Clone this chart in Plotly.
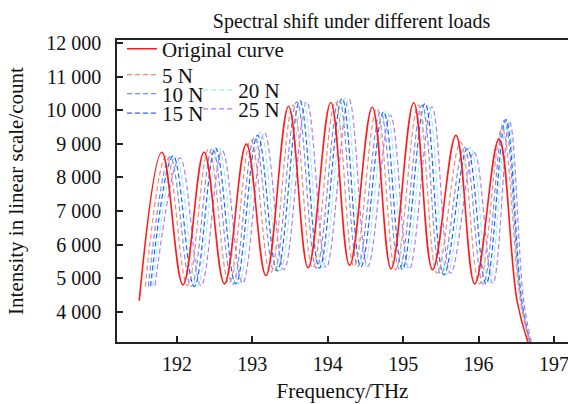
import plotly.graph_objects as go

# ---- data ----
f_orig = [191.50, 191.80, 192.08, 192.36, 192.63, 192.92, 193.18, 193.48, 193.74, 194.04,
          194.29, 194.59, 194.84, 195.14, 195.39, 195.70, 195.95, 196.27, 196.51, 196.66]
v_orig = [4330, 8750, 4800, 8750, 4830, 8990, 5080, 10120, 5310, 10230,
          5380, 10090, 5280, 10220, 5250, 9250, 4830, 9140, 4330, 3060]

f_5N = [191.58, 191.86, 192.14, 192.42, 192.69, 192.98, 193.24, 193.54, 193.80, 194.10,
        194.35, 194.65, 194.90, 195.20, 195.45, 195.76, 196.01, 196.31, 196.55, 196.68]
v_5N = [4750, 8650, 4780, 8850, 4850, 9100, 5150, 10150, 5300, 10250,
        5350, 10050, 5250, 10150, 5150, 9050, 4830, 9450, 4400, 3050]

f_10N = [191.62, 191.91, 192.19, 192.47, 192.74, 193.03, 193.29, 193.59, 193.85, 194.15,
         194.40, 194.70, 194.95, 195.25, 195.50, 195.81, 196.06, 196.34, 196.56, 196.69]
v_10N = [4750, 8620, 4760, 8870, 4820, 9200, 5200, 10250, 5300, 10330,
         5350, 9950, 5270, 10150, 5120, 8900, 4820, 9700, 4400, 3040]

f_15N = [191.65, 191.95, 192.23, 192.51, 192.78, 193.07, 193.33, 193.63, 193.89, 194.19,
         194.44, 194.74, 194.99, 195.29, 195.54, 195.85, 196.10, 196.36, 196.57, 196.69]
v_15N = [4760, 8640, 4750, 8880, 4830, 9250, 5220, 10280, 5300, 10350,
         5340, 9950, 5260, 10200, 5100, 8850, 4830, 9720, 4350, 3030]

f_20N = [191.68, 191.99, 192.27, 192.55, 192.82, 193.11, 193.37, 193.67, 193.93, 194.23,
         194.48, 194.78, 195.03, 195.33, 195.58, 195.89, 196.14, 196.38, 196.58, 196.70]
v_20N = [4770, 8620, 4760, 8900, 4830, 9350, 5230, 10300, 5300, 10350,
         5330, 9980, 5260, 10170, 5110, 8900, 4830, 9720, 4300, 3020]

f_25N = [191.71, 192.04, 192.32, 192.60, 192.87, 193.16, 193.42, 193.72, 193.98, 194.28,
         194.53, 194.83, 195.08, 195.38, 195.63, 195.94, 196.19, 196.41, 196.60, 196.71]
v_25N = [4780, 8580, 4780, 8800, 4850, 9330, 5250, 10250, 5320, 10320,
         5350, 9850, 5270, 10100, 5150, 8750, 4850, 9650, 4300, 3010]

x_ticks = [192, 193, 194, 195, 196, 197]
y_ticks = [4000, 5000, 6000, 7000, 8000, 9000, 10000, 11000, 12000]

FONT = "Liberation Serif"
TXT = "#111111"
AX = "#222222"

series = [
    ("Original curve", f_orig, v_orig, "#ff1a1a", "solid", 1.6, "legend", 0.011, 0.970),
    ("5 N", f_5N, v_5N, "#ef8a78", "5px,3px", 1.2, "legend2", 0.011, 0.884),
    ("10 N", f_10N, v_10N, "#6a93ff", "5px,3px", 1.2, "legend3", 0.011, 0.821),
    ("15 N", f_15N, v_15N, "#2f5cff", "5px,3px", 1.2, "legend4", 0.011, 0.757),
    ("20 N", f_20N, v_20N, "#8ff5dc", "5px,3px", 1.2, "legend5", 0.18, 0.834),
    ("25 N", f_25N, v_25N, "#b476ff", "5px,3px", 1.2, "legend6", 0.18, 0.771),
]

fig = go.Figure()
legend_layouts = {}
for name, fx, fy, col, dash, w, lg, lx, ly in series[::-1]:
    fig.add_trace(go.Scatter(
        x=fx, y=fy, mode="lines", name=name,
        line=dict(color=col, dash=dash, width=w, shape="spline", smoothing=1.1),
        legend=lg,
    ))
for name, fx, fy, col, dash, w, lg, lx, ly in series:
    legend_layouts[lg] = dict(
        x=lx, y=ly, xanchor="left", yanchor="middle",
        bgcolor="rgba(0,0,0,0)", borderwidth=0,
        font=dict(family=FONT, size=21, color=TXT),
        itemwidth=30,
    )

fig.update_layout(
    width=568, height=404,
    margin=dict(l=117, r=0, t=40, b=62, autoexpand=False),
    paper_bgcolor="white", plot_bgcolor="white",
    separators=". ",
    font=dict(family=FONT, size=20, color=TXT),
    title=dict(text="Spectral shift under different loads", x=0.52, xref="paper",
               xanchor="center", y=1 - 21 / 404, yref="container", yanchor="middle",
               font=dict(family=FONT, size=20, color=TXT)),
    showlegend=True,
    **legend_layouts,
)

fig.update_xaxes(
    range=[191.205, 197.186], tickvals=x_ticks, ticks="inside", ticklen=6, tickwidth=1.5,
    tickcolor=AX, showline=True, linecolor=AX, linewidth=1.5, mirror=True,
    showgrid=False, zeroline=False, ticklabelstandoff=3, automargin=False,
    ticklabeloverflow="allow", showspikes=False,
    tickfont=dict(family=FONT, size=20, color=TXT),
    title=dict(text="Frequency/THz", font=dict(family=FONT, size=21, color=TXT), standoff=10),
)
fig.update_yaxes(
    range=[3100, 12090], tickvals=y_ticks, tickformat=",d", ticks="inside", ticklen=6,
    tickwidth=1.5, tickcolor=AX, showline=True, linecolor=AX, linewidth=1.5,
    mirror=False, showgrid=False, zeroline=False, ticklabelstandoff=10, automargin=False,
    showspikes=False,
    tickfont=dict(family=FONT, size=20, color=TXT),
    title=dict(text="Intensity in linear scale/count", font=dict(family=FONT, size=21, color=TXT),
               standoff=17),
)

fig.write_html("out.html", config={"displayModeBar": False})
